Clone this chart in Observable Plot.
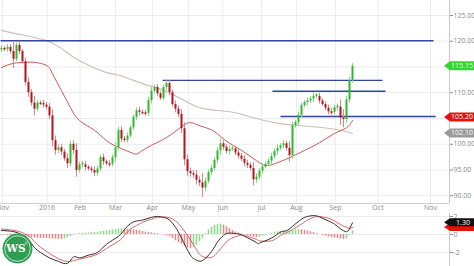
<!DOCTYPE html>
<html><head><meta charset="utf-8">
<script src="https://cdn.jsdelivr.net/npm/d3@7"></script>
<script src="https://cdn.jsdelivr.net/npm/@observablehq/plot@0.6"></script>
<style>
html,body{margin:0;padding:0;background:#fff;overflow:hidden;}
#chart svg{display:block;}
</style></head><body><div id="chart"></div>
<script>
// ---- data ----
const open0 = 118.3;
const closes = [
118.6,118.4,118.8,118.0,116.5,119.2,118.0,116.0,112.0,110.0,
108.0,106.8,108.0,107.9,107.6,107.2,105.5,100.7,98.8,99.3,
98.5,97.2,96.2,100.0,98.8,94.9,96.0,96.0,95.5,95.2,
94.9,94.4,95.2,97.4,96.6,96.2,96.1,97.4,99.3,102.7,
101.0,100.8,101.6,103.2,105.2,106.5,106.2,106.1,106.0,108.5,
110.3,111.0,109.8,108.9,111.0,111.8,110.0,107.7,106.8,105.8,
103.0,97.0,94.7,94.3,94.0,93.0,92.5,91.5,92.8,94.5,
95.3,96.9,98.7,100.1,99.4,98.6,99.0,99.1,98.3,97.7,
97.1,96.3,95.9,95.3,93.1,93.6,94.8,95.6,96.1,96.7,
97.6,98.6,99.2,99.7,100.1,99.2,97.8,103.6,104.2,105.6,
107.5,108.1,108.4,108.8,109.3,109.3,108.4,107.7,107.0,106.3,
106.2,107.1,107.2,105.1,104.8,108.6,112.4,115.15];
const wick = [
0.5,0.4,0.6,0.5,1.8,0.5,0.6,0.4,0.7,0.9,
0.6,1.3,0.5,0.4,0.6,0.5,0.7,1.2,0.9,0.6,
0.7,0.5,0.9,0.6,0.7,1.3,0.5,0.6,0.7,0.4,
0.5,0.7,0.6,0.5,0.7,0.4,0.6,0.5,0.9,0.6,
0.7,0.5,0.6,0.4,0.5,0.6,0.7,0.4,0.5,0.6,
0.7,0.5,0.6,0.4,0.5,0.7,0.6,0.5,0.7,0.6,
0.9,1.2,0.9,0.7,0.6,0.9,0.7,1.8,0.7,0.5,
0.6,0.5,0.7,0.9,0.6,0.5,0.7,0.4,0.5,0.6,
0.5,0.7,0.6,0.5,1.2,0.7,0.5,0.6,0.4,0.5,
0.6,0.5,0.7,0.4,0.6,0.5,1.3,0.7,0.5,0.6,
0.5,0.4,0.6,0.5,0.7,0.5,0.6,0.4,0.5,0.6,
0.7,0.5,0.6,1.4,1.6,0.7,0.6,0.5];

const tickPos = [0.3,15.2,26.2,38,50.3,62.3,73.8,86.7,98.3,111.3,125.5,143];
const tickLabels = ["Nov","2016","Feb","Mar","Apr","May","Jun","Jul","Aug","Sep","Oct","Nov"];

const redMAIdx = [0,4,8,11,15,17,20,23,26,31,35,39,44,46,50,55,60,63,66,70,73,76,80,85,88,91,96,101,106,111,115,117];
const redMAVal = [114.9,115.7,115.9,115.9,115.3,113.7,110.4,107.1,104.6,102.7,100.7,99.4,98.2,98.4,99.8,101.3,103.4,104.2,103.6,102.8,101.5,100.2,98.8,96.8,95.9,96.2,97.4,98.8,100.3,102.1,103.2,104.6];
const grayMAIdx = [0,7,15,20,26,35,38,44,49,53,61,66,73,78,85,93,100,110,117];
const grayMAVal = [122.1,121.2,120.1,118.6,116.2,113.9,113.6,112.4,111.4,110.7,108.5,107.1,106.5,106.1,105.0,104.0,103.6,103.0,102.1];

const levelVals  = [120.1,112.4,110.3,105.4];
const levelStart = [-0.33,53.7,90.3,93];
const levelEnd   = [144,127,128,144.7];
const redTag = 105.2;

const yTicks = [90,95,100,110,120,125];
const yGrid = [90,95,100,105,110,115,120,125];

const macdIdx = [0,3,6,9,11,13,16,19,22,24,26,29,32,35,39,41,43,45,47,50,52,54,56,58,60,63,65,67,70,72,74,76,79,81,85,86,90,93,95,97,100,102,104,106,109,111,113,115,116,117];
const macdVal = [0.44,0.37,0.1,-0.6,-1.45,-2.0,-2.6,-3.0,-3.2,-2.5,-2.6,-2.3,-2.0,-1.1,-0.2,0.55,1.2,1.5,1.6,1.9,2.0,1.9,1.6,0.8,-0.4,-2.3,-2.85,-2.9,-1.9,-0.85,-0.1,0.15,0.05,-0.2,-0.9,-0.96,-0.4,0.26,0.42,0.9,1.7,2.0,2.1,1.95,1.5,1.15,0.63,0.3,0.63,1.3];
const signalVal = [0.6,0.5,0.32,-0.15,-0.8,-1.4,-2.1,-2.7,-3.0,-2.9,-2.75,-2.5,-2.2,-1.55,-0.75,-0.1,0.6,1.0,1.35,1.7,1.9,1.95,1.85,1.5,0.8,-0.6,-1.7,-2.45,-2.55,-2.0,-1.2,-0.55,-0.15,-0.12,-0.55,-0.7,-0.7,-0.1,0.2,0.55,1.15,1.6,1.9,2.0,1.8,1.5,1.1,0.8,0.68,0.78];
const hist = [
-0.1,-0.1,-0.12,-0.13,-0.15,-0.18,-0.2,-0.25,-0.3,-0.35,
-0.38,-0.4,-0.42,-0.44,-0.45,-0.46,-0.48,-0.5,-0.52,-0.53,
-0.55,-0.5,-0.35,-0.2,-0.05,0.05,0.1,0.12,0.15,0.17,
0.2,0.22,0.25,0.3,0.35,0.4,0.45,0.5,0.55,0.6,
0.62,0.6,0.58,0.55,0.5,0.45,0.4,0.33,0.27,0.22,
0.18,0.12,0.08,0.02,-0.05,-0.15,-0.25,-0.45,-0.7,-0.9,
-1.1,-1.3,-1.5,-1.6,-1.45,-1.2,-0.8,-0.4,0.1,0.5,
0.8,1.0,1.1,1.15,1.05,0.85,0.65,0.45,0.28,0.15,
0.05,-0.05,-0.15,-0.22,-0.3,-0.35,-0.3,-0.2,-0.1,0.05,
0.15,0.25,0.3,0.34,0.36,0.38,0.4,0.45,0.5,0.52,
0.5,0.45,0.4,0.3,0.2,0.1,0.0,-0.1,-0.2,-0.28,
-0.35,-0.4,-0.45,-0.5,-0.55,-0.5,-0.1,0.4];
const macdTicks = [2,0,-2];

// ---- build tables ----
const candles = closes.map((c,i)=>{
  const o = i===0 ? open0 : closes[i-1];
  const w = wick[i] ?? 0.5;
  const up = c >= o;
  const c2 = Math.abs(c-o) < 0.3 ? o + (up?0.3:-0.3) : c;
  return {i, o, c, c2, up, hi: Math.max(o,c)+w, lo: Math.min(o,c)-w};
});
const redMA = redMAIdx.map((i,k)=>({i, v: redMAVal[k]}));
const grayMA = grayMAIdx.map((i,k)=>({i, v: grayMAVal[k]}));
const levels = levelVals.map((v,k)=>({v, s: levelStart[k], e: levelEnd[k]}));
const macd = macdIdx.map((i,k)=>({i, m: macdVal[k], s: signalVal[k]}));
const histT = hist.map((h,i)=>({i, h, up: i===0 ? h>=0 : h >= hist[i-1]}));
const labelMap = new Map(tickPos.map((p,k)=>[p, tickLabels[k]]));

const W = 474;
const xDomain = [-0.33, 149.33];
const yDomain = [88.5, 127.9];
const font = "'Open Sans', 'DejaVu Sans', sans-serif";
const GREEN = "#2cba2c", RED = "#b3141c";

const main = Plot.plot({
  width: W, height: 213,
  marginLeft: 0, marginRight: 25, marginTop: 0, marginBottom: 10,
  style: {fontFamily: font, fontSize: "7px", color: "#888", background: "#fff", overflow: "visible"},
  x: {domain: xDomain, ticks: tickPos, tickFormat: d => labelMap.get(d), tickSize: 0, tickPadding: 2, label: null},
  y: {domain: yDomain, axis: "right", ticks: yTicks, tickFormat: d => d.toFixed(2), tickSize: 3, tickPadding: 1, label: null},
  marks: [
    Plot.ruleX(tickPos, {stroke: "#ececec"}),
    Plot.ruleY(yGrid, {stroke: "#ececec"}),
    Plot.ruleX([xDomain[1]], {stroke: "#c8c8c8"}),
    Plot.ruleY([yDomain[0]], {stroke: "#d0d0d0"}),
    Plot.line(grayMA, {x: "i", y: "v", stroke: "#cbbfb8", strokeWidth: 1.1, curve: "natural"}),
    Plot.line(redMA, {x: "i", y: "v", stroke: "#c65a56", strokeWidth: 1, curve: "natural"}),
    Plot.link(levels, {x1: "s", x2: "e", y1: "v", y2: "v", stroke: "#33469c", strokeWidth: 1.4}),
    Plot.ruleX(candles, {x: "i", y1: "lo", y2: "hi", stroke: d => d.up ? "#86d486" : "#d8868b", strokeWidth: 1}),
    Plot.ruleX(candles, {x: "i", y1: "o", y2: "c2", stroke: d => d.up ? GREEN : RED, strokeWidth: 2})
  ]
});

const sub = Plot.plot({
  width: W, height: 53,
  marginLeft: 0, marginRight: 25, marginTop: 0, marginBottom: 0,
  style: {fontFamily: font, fontSize: "7px", color: "#888", background: "#fff", overflow: "visible"},
  x: {domain: xDomain, axis: null},
  y: {domain: [-3.56, 2.33], axis: "right", ticks: macdTicks, tickFormat: d => String(d), tickSize: 3, tickPadding: 1, label: null},
  marks: [
    Plot.ruleY(macdTicks, {stroke: "#ececec"}),
    Plot.ruleX([xDomain[1]], {stroke: "#c8c8c8"}),
    Plot.ruleX(histT, {x: "i", y1: 0, y2: "h", stroke: d => d.up ? "#8fd68f" : "#e08a8e", strokeWidth: 1.6}),
    Plot.line(macd, {x: "i", y: "s", stroke: "#d4686a", strokeWidth: 1, curve: "natural"}),
    Plot.line(macd, {x: "i", y: "m", stroke: "#3a2a2a", strokeWidth: 1, curve: "natural"})
  ]
});

const root = document.getElementById("chart");
root.appendChild(main);
root.appendChild(sub);

// ---- value tags on the right axis ----
function addTag(svg, xs, ys, value, fill, textFill, txt, h = 9, shift = 0) {
  const ax = xs.apply(xDomain[1]);
  const y = ys.apply(value);
  const tip = ax - 5, body = ax + 1, end = W;
  const g = d3.select(svg).append("g");
  g.append("path")
    .attr("d", `M${tip},${y}L${body},${y-h/2}L${end},${y-h/2}L${end},${y+h/2}L${body},${y+h/2}Z`)
    .attr("fill", fill);
  if (txt) g.append("text").attr("x", (body+end)/2 + shift).attr("y", y).attr("dy", "0.35em")
    .attr("text-anchor", "middle").attr("fill", textFill)
    .attr("font-size", 7).attr("font-family", font).text(txt);
}
const mx = main.scale("x"), my = main.scale("y");
addTag(main, mx, my, redTag, "#e3120b", "#fff", redTag.toFixed(2));
addTag(main, mx, my, grayMAVal[grayMAVal.length-1], "#9a9a9a", "#fff", grayMAVal[grayMAVal.length-1].toFixed(2));
addTag(main, mx, my, closes[closes.length-1], "#35d435", "#eaffea", closes[closes.length-1].toFixed(2));

const sx = sub.scale("x"), sy = sub.scale("y");
addTag(sub, sx, sy, signalVal[signalVal.length-1], "#e3120b", "#fff", null, 8);
addTag(sub, sx, sy, macdVal[macdVal.length-1], "#111", "#fff", macdVal[macdVal.length-1].toFixed(2), 8, 1);

// ---- logo ----
const lg = d3.select(sub).append("g").attr("transform", "translate(17.5,35.5)");
lg.append("circle").attr("r", 15).attr("fill", "#2f9e52");
lg.append("circle").attr("r", 12.8).attr("fill", "none").attr("stroke", "#e8f5ec").attr("stroke-width", 0.8);
lg.append("text").attr("text-anchor", "middle").attr("dy", "0.36em").attr("x", -1.5)
  .attr("fill", "#fff").attr("font-family", "'DejaVu Serif', serif").attr("font-weight", "bold")
  .attr("font-size", 10.5).text("WS");
lg.append("text").attr("x", 8.6).attr("y", -3.5).attr("fill", "#fff").attr("font-size", 3.5)
  .attr("font-family", font).text("®");
</script>
</body></html>
